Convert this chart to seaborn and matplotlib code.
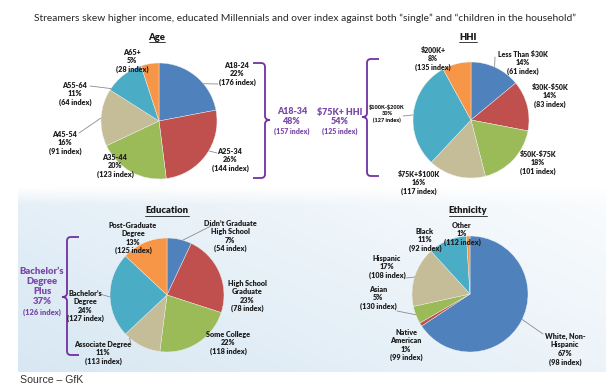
import numpy as np
import seaborn as sns
import matplotlib.pyplot as plt
from matplotlib.patches import ConnectionPatch, PathPatch
from matplotlib.path import Path
from matplotlib.lines import Line2D

# ---- data ----
age_names = ["A18-24", "A25-34", "A35-44", "A45-54", "A55-64", "A65+"]
age_share = [22, 26, 20, 16, 11, 5]
age_index = [176, 144, 123, 91, 64, 28]

hhi_names = ["Less Than $30K", "$30K-$50K", "$50K-$75K", "$75K+$100K", "$100K-$200K", "$200K+"]
hhi_share = [14, 14, 18, 16, 30, 8]
hhi_index = [61, 83, 101, 117, 127, 135]

edu_names = ["Didn’t Graduate\nHigh School", "High School\nGraduate", "Some College",
             "Associate Degree", "Bachelor’s\nDegree", "Post-Graduate\nDegree"]
edu_share = [7, 23, 22, 11, 24, 13]
edu_index = [54, 78, 118, 113, 127, 125]

eth_names = ["White, Non-\nHispanic", "Native\nAmerican", "Asian", "Hispanic", "Black", "Other"]
eth_share = [67, 1, 5, 17, 11, 1]
eth_index = [98, 99, 130, 108, 92, 112]

title = "Streamers skew higher income, educated Millennials and over index against both “single” and “children in the household”"

sns.set_theme(style="white")
plt.rcParams['font.family'] = ['Lato', 'DejaVu Sans']
plt.rcParams['text.parse_math'] = False

colors = sns.color_palette(["#4F81BD", "#C0504D", "#9BBB59", "#C4BD97", "#4BACC6", "#F79646"])
purple = "#7030A0"
W, H = 609, 388


def fx(x):
    return x / W


def fy(y):
    return 1 - y / H


fig = plt.figure(figsize=(W / 100, H / 100), dpi=100)
fig.patch.set_facecolor("white")

# light blue gradient behind the lower panel
bg = fig.add_axes([fx(18), fy(372), fx(606) - fx(18), (372 - 186) / H], zorder=0)
xn, yn = np.meshgrid(np.linspace(0, 1, 200), np.linspace(0, 1, 100))
t = np.clip(0.12 + 0.5 * (1 - xn) + 0.35 * yn, 0, 1) * np.clip(yn / 0.1, 0, 1) * 0.8
blue = np.array([0.80, 0.88, 0.94])
img = (1 - t[..., None]) * 1.0 + t[..., None] * blue
bg.imshow(img, extent=[0, 1, 0, 1], aspect="auto")
bg.axis("off")


def draw_pie(cx, cy, r, share, names, index, pos, leaders, sizes=None):
    ax = fig.add_axes([fx(cx - r), fy(cy + r), 2 * r / W, 2 * r / H], zorder=1)
    wedges, _ = ax.pie(share, colors=colors, startangle=90, counterclock=False,
                       wedgeprops=dict(linewidth=0.3, edgecolor="#f0f0f0"))
    ax.set_xlim(-1, 1)
    ax.set_ylim(-1, 1)
    ax.axis("off")
    for i, (n, s, k) in enumerate(zip(names, share, index)):
        size = sizes[i] if sizes else 5.2
        fig.text(fx(pos[i][0]), fy(pos[i][1]), f"{n}\n{s}%\n({k} index)", ha="center", va="center",
                 fontsize=size, fontweight="heavy", color="#1f1f1f", linespacing=1.25, zorder=4)
    for i, ((tx, ty), ang) in leaders.items():
        a = np.radians(ang)
        con = ConnectionPatch(xyA=(np.cos(a), np.sin(a)), coordsA=ax.transData,
                              xyB=(fx(tx), fy(ty)), coordsB=fig.transFigure,
                              color="#8c8c8c", lw=0.6, zorder=2)
        fig.add_artist(con)
    return ax


draw_pie(159, 121, 58, age_share, age_names, age_index,
         [(237, 74), (230, 160), (115, 166), (65, 143), (75, 94), (132, 61)],
         {0: ((218, 84), 40), 1: ((217, 153), -31), 3: ((79, 133), 177), 4: ((90, 86), 146)})

draw_pie(471, 120, 58, hhi_share, hhi_names, hhi_index,
         [(523, 63), (550, 96), (538, 163), (419, 183), (387, 114), (433, 59)],
         {0: ((495, 57), 66), 4: ((403, 116), 175)},
         sizes=[5.0, 5.0, 5.0, 5.0, 4.0, 5.0])

draw_pie(167, 295, 57, edu_share, edu_names, edu_index,
         [(230, 236), (247, 296), (228, 343), (103, 353), (85, 306), (133, 238)],
         {0: ((213, 225), 74), 3: ((131, 345), 229), 4: ((100, 294), 182)})

draw_pie(470, 294, 58, eth_share, eth_names, eth_index,
         [(565, 349), (406, 345), (378, 298), (387, 267), (425, 240), (462, 234)],
         {0: ((543, 334), -26), 2: ((397, 311), 201), 3: ((406, 278), 163)})

# titles
fig.text(fx(305), fy(18), title, ha="center", va="center", fontsize=7.4, color="#262626")
renderer = fig.canvas.get_renderer()
for name, x, y in [("Age", 157, 37), ("HHI", 468, 37), ("Education", 167, 211), ("Ethnicity", 468, 211)]:
    tt = fig.text(fx(x), fy(y), name, ha="center", va="center", fontsize=6.8,
                  fontweight="heavy", color="#1a1a1a")
    bb = tt.get_window_extent(renderer)
    fig.add_artist(Line2D([bb.x0 / W, bb.x1 / W], [(bb.y0 - 0.5) / H] * 2,
                          transform=fig.transFigure, color="#1a1a1a", lw=0.6))


def brace(x, y0, y1, ym, direction, serif=12, c=4, tip=5):
    # direction +1: tip points right (serifs go left), -1: tip points left
    d = direction
    pts = [(x - d * serif, y0), (x - d * c, y0), (x, y0), (x, y0 + c), (x, ym - c),
           (x, ym), (x + d * tip, ym), (x, ym), (x, ym + c), (x, y1 - c), (x, y1),
           (x - d * c, y1), (x - d * serif, y1)]
    codes = [Path.MOVETO, Path.LINETO, Path.CURVE3, Path.CURVE3, Path.LINETO,
             Path.CURVE3, Path.CURVE3, Path.CURVE3, Path.CURVE3, Path.LINETO,
             Path.CURVE3, Path.CURVE3, Path.LINETO]
    verts = [(fx(px), fy(py)) for px, py in pts]
    fig.add_artist(PathPatch(Path(verts, codes), transform=fig.transFigure,
                             fill=False, edgecolor=purple, lw=1.3))


brace(265, 63, 178, 120, +1)
brace(367, 59, 176, 117, -1)
brace(67, 237, 355, 297, -1)

for txt, x, y, s in [("A18-34", 292, 112, 6.4), ("48%", 292, 121, 6.4), ("(157 index)", 292, 131, 5.0),
                     ("$75K+ HHI", 340, 112, 6.4), ("54%", 340, 121, 6.4), ("(125 index)", 340, 131, 5.0),
                     ("Bachelor’s", 42, 271, 6.8), ("Degree", 42, 281, 6.8), ("Plus", 42, 292, 6.8),
                     ("37%", 42, 302, 6.8), ("(126 index)", 42, 312, 5.4)]:
    fig.text(fx(x), fy(y), txt, ha="center", va="center", fontsize=s, fontweight="heavy", color="#7a4aa8")

fig.text(fx(20), fy(380), "Source – GfK", ha="left", va="center", fontsize=7.6,
         family="Liberation Sans", color="#333333")

fig.savefig("out.png", dpi=100)
